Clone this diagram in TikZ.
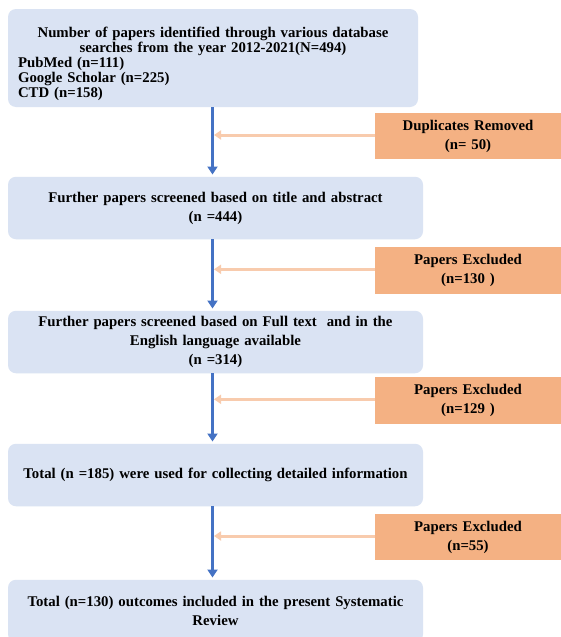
\documentclass[tikz,border=0pt]{standalone}
\usepackage{fontspec}
\setmainfont{Liberation Serif}
\usetikzlibrary{arrows.meta}
\definecolor{stageblue}{HTML}{DAE3F3}
\definecolor{exclorange}{HTML}{F4B183}
\definecolor{flowblue}{HTML}{4472C4}
\definecolor{droporange}{HTML}{F8CBAD}
\tikzset{
	stagebox/.style={fill=stageblue,rounded corners=8pt,inner xsep=10pt,inner ysep=0pt,
		text width=395pt,minimum height=62.5pt,align=center,
		font=\bfseries\fontsize{14.8}{19}\selectfont},
	exclbox/.style={fill=exclorange,inner sep=0pt,text width=186pt,minimum height=46.5pt,
		align=center,font=\bfseries\fontsize{14.8}{19}\selectfont},
	flowarrow/.style={-{Triangle[length=8pt,width=10pt]},line width=3pt,draw=flowblue},
	droparrow/.style={-{Triangle[length=7pt,width=9pt]},line width=3pt,draw=droporange}
}
\newcommand{\srcline}[1]{\makebox[390pt][l]{#1}}
\begin{document}
\begin{tikzpicture}[x=1pt,y=-1pt]
	\clip (0,0) rectangle (561,637);
	\fill[white] (0,0) rectangle (561,637);

	% main stages
	\node[stagebox,text width=390pt,minimum height=98pt,
		font=\bfseries\fontsize{14.8}{15}\selectfont] (ids) at (213,58)
	{\rule{0pt}{23pt}Number of papers identified through various database\\
		searches from the year 2012-2021(N=494)\\
		\srcline{PubMed (n=111)}\\ \srcline{Google Scholar (n=225)}\\ \srcline{CTD (n=158)}};
	\node[stagebox] (scr) at (215.5,208)
	{Further papers screened based on title and abstract\\ (n =444)};
	\node[stagebox] (full) at (215.5,342)
	{Further papers screened based on Full text \ and in the\\ English language available\\ (n =314)};
	\node[stagebox] (tot) at (215.5,475)
	{Total (n =185) were used for collecting detailed information};
	\node[stagebox] (rev) at (215.5,611)
	{Total (n=130) outcomes included in the present Systematic\\ Review};

	% removed papers
	\node[exclbox] (dup) at (468,136) {Duplicates Removed\\ (n= 50)};
	\node[exclbox] (ex1) at (468,270.3) {Papers Excluded\\ (n=130 )};
	\node[exclbox] (ex2) at (468,400.3) {Papers Excluded\\ (n=129 )};
	\node[exclbox] (ex3) at (468,537) {Papers Excluded\\ (n=55)};

	\draw[flowarrow,shorten >=2pt] ([xshift=-0.5pt]ids.south) -- ([xshift=-0.5pt]ids.south |- scr.north);
	\draw[flowarrow,shorten >=2pt] ([xshift=-3pt]scr.south) -- ([xshift=-3pt]scr.south |- full.north);
	\draw[flowarrow,shorten >=2pt] ([xshift=-3pt]full.south) -- ([xshift=-3pt]full.south |- tot.north);
	\draw[flowarrow,shorten >=2pt] ([xshift=-3pt]tot.south) -- ([xshift=-3pt]tot.south |- rev.north);

	\draw[droparrow,shorten >=1pt] ([yshift=1pt]dup.west) -- ([yshift=1pt]dup.west -| ids.south);
	\draw[droparrow,shorten >=1pt] ([yshift=1pt]ex1.west) -- ([yshift=1pt]ex1.west -| ids.south);
	\draw[droparrow,shorten >=1pt] ([yshift=1pt]ex2.west) -- ([yshift=1pt]ex2.west -| ids.south);
	\draw[droparrow,shorten >=1pt] ([yshift=1pt]ex3.west) -- ([yshift=1pt]ex3.west -| ids.south);
\end{tikzpicture}
\end{document}
